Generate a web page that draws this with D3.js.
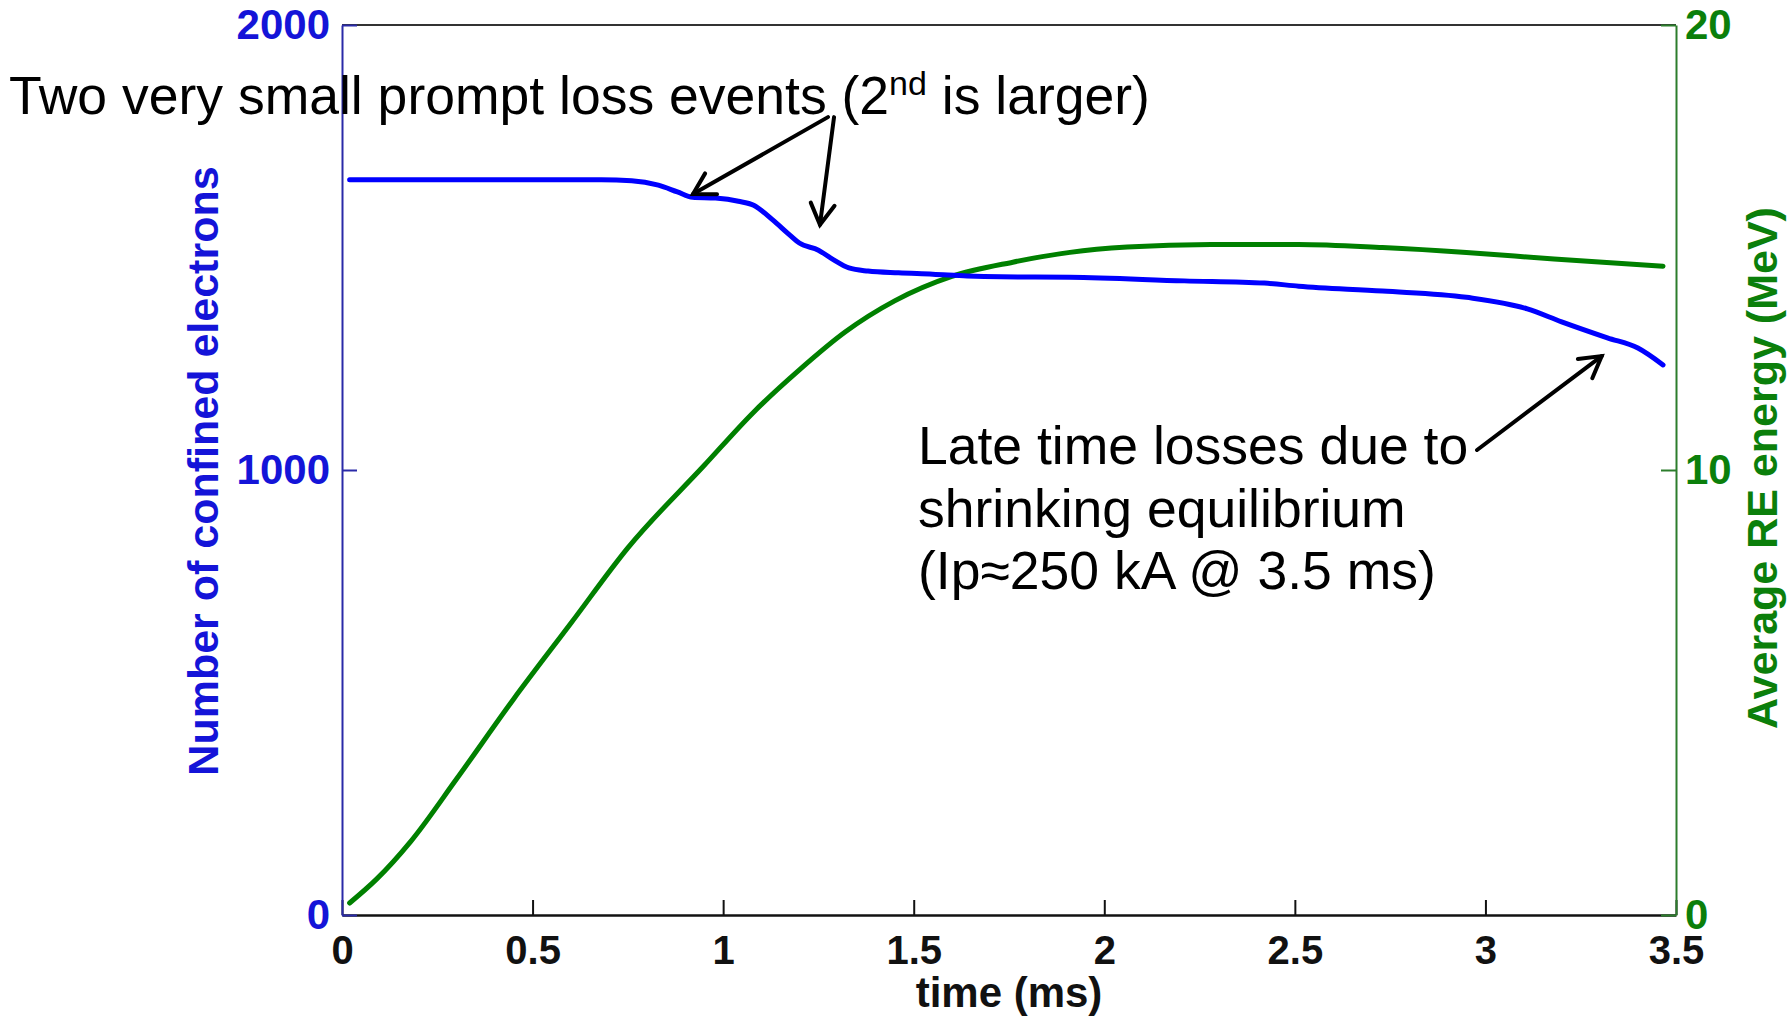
<!DOCTYPE html>
<html>
<head>
<meta charset="utf-8">
<script src="https://cdn.jsdelivr.net/npm/d3@7"></script>
<style>
  html, body { margin: 0; padding: 0; background: #ffffff; }
  svg { display: block; }
  text { font-family: "Liberation Sans", Arial, Helvetica, sans-serif; }
</style>
</head>
<body>
<svg id="chart" width="1791" height="1018"></svg>
<script>
// ---- data ----
const timeBlue = [0.02, 0.68, 0.76, 0.83, 0.88, 0.92, 0.98, 1.04, 1.08, 1.13, 1.175, 1.20, 1.25, 1.29, 1.33, 1.38, 1.46, 1.55, 1.64, 1.73, 1.91, 2.21, 2.42, 2.51, 2.73, 2.95, 3.11, 3.20, 3.32, 3.40, 3.466];
const confinedElectrons = [1652, 1652, 1650, 1640, 1625, 1613, 1611, 1604, 1595, 1562, 1528, 1510, 1494, 1472, 1454, 1447, 1443, 1440, 1436, 1434, 1433, 1425, 1420, 1413, 1402, 1388, 1362, 1333, 1297, 1274, 1236];

const timeGreen = [0.02, 0.09, 0.18, 0.30, 0.45, 0.60, 0.75, 0.95, 1.08, 1.20, 1.32, 1.45, 1.60, 1.76, 1.91, 2.06, 2.28, 2.51, 2.73, 2.95, 3.18, 3.466];
const avgEnergy = [0.27, 0.80, 1.65, 3.05, 4.85, 6.55, 8.25, 10.1, 11.3, 12.25, 13.1, 13.8, 14.35, 14.67, 14.89, 15.01, 15.07, 15.07, 15.0, 14.89, 14.74, 14.58];

const xTicks = [0, 0.5, 1, 1.5, 2, 2.5, 3, 3.5];
const xTickLabels = ["0", "0.5", "1", "1.5", "2", "2.5", "3", "3.5"];
const yLeftTicks = [0, 1000, 2000];
const yLeftTickLabels = ["0", "1000", "2000"];
const yRightTicks = [0, 10, 20];
const yRightTickLabels = ["0", "10", "20"];

const xLabel = "time (ms)";
const yLeftLabel = "Number of confined electrons";
const yRightLabel = "Average RE energy (MeV)";

// ---- layout ----
const W = 1791, H = 1018;
const L = 342, R = 1676, T = 25, B = 915;
const BLUE = "#0000ff", BLUE_TXT = "#1414d8", GREEN = "#008000", GREEN_TXT = "#0b7f0b";

const svg = d3.select("#chart");
const x = d3.scaleLinear().domain([0, 3.5]).range([L, R]);
const yL = d3.scaleLinear().domain([0, 2000]).range([B, T]);
const yR = d3.scaleLinear().domain([0, 20]).range([B, T]);

// top border
svg.append("line").attr("x1", L).attr("x2", R).attr("y1", T).attr("y2", T)
  .attr("stroke", "#333").attr("stroke-width", 2);

// lines
const lineBlue = d3.line().x((d, i) => x(timeBlue[i])).y(d => yL(d)).curve(d3.curveMonotoneX);
const lineGreen = d3.line().x((d, i) => x(timeGreen[i])).y(d => yR(d)).curve(d3.curveMonotoneX);

svg.append("path").attr("d", lineGreen(avgEnergy)).attr("fill", "none")
  .attr("stroke", GREEN).attr("stroke-width", 5).attr("stroke-linejoin", "round").attr("stroke-linecap", "round");
svg.append("path").attr("d", lineBlue(confinedElectrons)).attr("fill", "none")
  .attr("stroke", BLUE).attr("stroke-width", 5).attr("stroke-linejoin", "round").attr("stroke-linecap", "round");

// axes
const gx = svg.append("g").attr("transform", `translate(0,${B})`)
  .call(d3.axisBottom(x).tickValues(xTicks).tickFormat((d, i) => xTickLabels[i])
    .tickSize(-15).tickSizeOuter(0).tickPadding(21));
gx.select(".domain").attr("stroke", "#111").attr("stroke-width", 2.5);
gx.selectAll(".tick line").attr("stroke", "#111").attr("stroke-width", 2);
gx.selectAll(".tick text").attr("fill", "#111").attr("font-size", 40).attr("font-weight", "bold");

const gl = svg.append("g").attr("transform", `translate(${L},0)`)
  .call(d3.axisLeft(yL).tickValues(yLeftTicks).tickFormat((d, i) => yLeftTickLabels[i])
    .tickSize(-15).tickSizeOuter(0).tickPadding(12));
gl.select(".domain").attr("stroke", "#2a2aa8").attr("stroke-width", 2);
gl.selectAll(".tick line").attr("stroke", "#2a2aa8").attr("stroke-width", 2);
gl.selectAll(".tick text").attr("fill", BLUE_TXT).attr("font-size", 42).attr("font-weight", "bold");

const gr = svg.append("g").attr("transform", `translate(${R},0)`)
  .call(d3.axisRight(yR).tickValues(yRightTicks).tickFormat((d, i) => yRightTickLabels[i])
    .tickSize(-15).tickSizeOuter(0).tickPadding(9));
gr.select(".domain").attr("stroke", "#2c7d2c").attr("stroke-width", 2);
gr.selectAll(".tick line").attr("stroke", "#2c7d2c").attr("stroke-width", 2);
gr.selectAll(".tick text").attr("fill", GREEN_TXT).attr("font-size", 42).attr("font-weight", "bold");

// axis labels
svg.append("text").attr("x", (L + R) / 2).attr("y", 1007).attr("text-anchor", "middle")
  .attr("font-size", 42).attr("font-weight", "bold").attr("fill", "#111").text(xLabel);
svg.append("text").attr("transform", `translate(218,${(T + B) / 2 + 1}) rotate(-90)`)
  .attr("text-anchor", "middle").attr("font-size", 43).attr("font-weight", "bold")
  .attr("fill", BLUE_TXT).text(yLeftLabel);
svg.append("text").attr("transform", `translate(1777,${468}) rotate(-90)`)
  .attr("text-anchor", "middle").attr("font-size", 43).attr("font-weight", "bold")
  .attr("fill", GREEN_TXT).text(yRightLabel);

// annotations
const t1 = svg.append("text").attr("x", 9).attr("y", 114).attr("font-size", 53.5).attr("fill", "#000");
t1.append("tspan").text("Two very small prompt loss events (2");
t1.append("tspan").attr("font-size", 34).attr("dy", -19).text("nd");
t1.append("tspan").attr("dy", 19).text(" is larger)");

const t2 = svg.append("text").attr("font-size", 53.5).attr("fill", "#000");
["Late time losses due to", "shrinking equilibrium", "(Ip\u2248250 kA @ 3.5 ms)"].forEach((s, i) => {
  t2.append("tspan").attr("x", 918).attr("y", 464 + i * 62.5).text(s);
});

// arrows (tails and tips in data space)
const arrows = [
  { from: [1.275, 1793], to: [0.921, 1620] },
  { from: [1.291, 1793], to: [1.254, 1551] },
  { from: [2.978, 1045], to: [3.305, 1256] }
];
function drawArrow(a) {
  const x1 = x(a.from[0]), y1 = yL(a.from[1]), x2 = x(a.to[0]), y2 = yL(a.to[1]);
  const ang = Math.atan2(y2 - y1, x2 - x1);
  const len = 24, spread = Math.PI / 6;
  svg.append("line").attr("x1", x1).attr("y1", y1).attr("x2", x2).attr("y2", y2)
    .attr("stroke", "#000").attr("stroke-width", 4).attr("stroke-linecap", "round");
  const p = d3.path();
  p.moveTo(x2 - len * Math.cos(ang - spread), y2 - len * Math.sin(ang - spread));
  p.lineTo(x2, y2);
  p.lineTo(x2 - len * Math.cos(ang + spread), y2 - len * Math.sin(ang + spread));
  svg.append("path").attr("d", p.toString()).attr("fill", "none").attr("stroke", "#000")
    .attr("stroke-width", 4).attr("stroke-linecap", "round").attr("stroke-linejoin", "miter");
}
arrows.forEach(drawArrow);
</script>
</body>
</html>
